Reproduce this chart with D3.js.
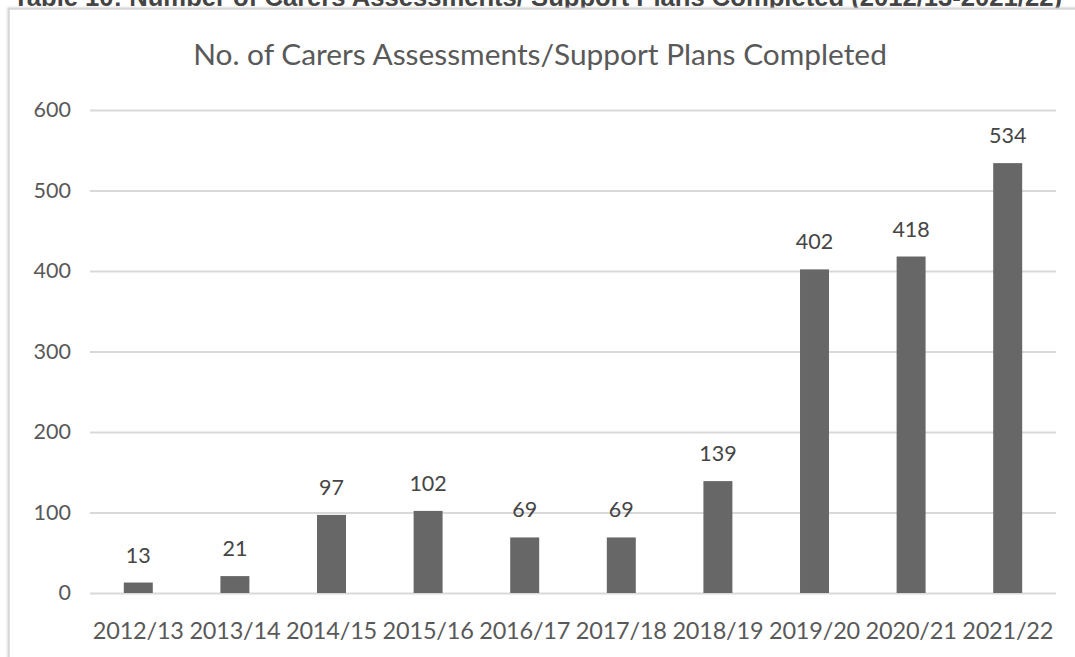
<!DOCTYPE html>
<html>
<head>
<meta charset="utf-8">
<script src="https://cdn.jsdelivr.net/npm/d3@7"></script>
<style>
  html, body { margin: 0; padding: 0; background: #fff; }
  svg { display: block; }
</style>
</head>
<body>
<svg id="chart" width="1075" height="657"></svg>
<script>
// Carers assessments / support plans completed per financial year
const years = ["2012/13", "2013/14", "2014/15", "2015/16", "2016/17",
               "2017/18", "2018/19", "2019/20", "2020/21", "2021/22"];
const completed = [13, 21, 97, 102, 69, 69, 139, 402, 418, 534];
const yTicks = [0, 100, 200, 300, 400, 500, 600];

const heading = "Table 10: Number of Carers Assessments/ Support Plans Completed (2012/13-2021/22)";
const chartTitle = "No. of Carers Assessments/Support Plans Completed";

const svg = d3.select("#chart");
const W = 1075, H = 657;
const plot = { left: 90, right: 1056, top: 110, bottom: 593 };
const font = "Lato, 'Open Sans', sans-serif";

// Fit a text element's font size so that it spans the given width
function fitWidth(sel, width) {
  const node = sel.node();
  const size = parseFloat(sel.attr("font-size"));
  const len = node.getComputedTextLength();
  sel.attr("font-size", (size * width / len).toFixed(2));
}

// Document heading, mostly cropped above the frame
const hd = svg.append("text")
  .attr("x", 13).attr("y", 6)
  .attr("font-family", "'Liberation Sans', Arial, sans-serif")
  .attr("font-weight", "bold")
  .attr("font-size", 20)
  .attr("fill", "#444")
  .text(heading);
fitWidth(hd, 1049);

// Chart frame with a soft shadow
const defs = svg.append("defs");
const sh = defs.append("filter").attr("id", "soft").attr("x", "-5%").attr("y", "-5%")
  .attr("width", "110%").attr("height", "110%");
sh.append("feGaussianBlur").attr("stdDeviation", 1.2);

svg.append("rect")
  .attr("x", 9).attr("y", 9).attr("width", W + 20).attr("height", H + 20)
  .attr("fill", "none").attr("stroke", "#cfcfcf").attr("stroke-width", 3)
  .attr("filter", "url(#soft)");
svg.append("rect")
  .attr("x", 9).attr("y", 9).attr("width", W + 20).attr("height", H + 20)
  .attr("fill", "#fff").attr("stroke", "#d6d6d6").attr("stroke-width", 1.5);

// Scales
const x = d3.scaleBand()
  .domain(years)
  .range([plot.left, plot.right])
  .paddingInner(0.7)
  .paddingOuter(0.35);

const y = d3.scaleLinear()
  .domain([0, 600])
  .range([plot.bottom, plot.top]);

const g = svg.append("g");

// Gridlines
g.append("g")
  .attr("transform", `translate(${plot.left},0)`)
  .call(d3.axisLeft(y).tickValues(yTicks).tickSize(-(plot.right - plot.left)).tickFormat(""))
  .call(a => a.select(".domain").remove())
  .call(a => a.selectAll(".tick line").attr("stroke", "#d9d9d9").attr("stroke-width", 2));

// Y axis labels
g.append("g")
  .attr("transform", `translate(${plot.left},0)`)
  .call(d3.axisLeft(y).tickValues(yTicks).tickSize(0).tickPadding(19))
  .call(a => a.select(".domain").remove())
  .call(a => a.selectAll("text")
    .attr("font-family", font).attr("font-size", 21.5).attr("fill", "#595959"));

// Bars
g.selectAll("rect.bar")
  .data(years.map((yr, i) => ({ yr, v: completed[i] })))
  .join("rect")
  .attr("class", "bar")
  .attr("x", d => x(d.yr))
  .attr("width", x.bandwidth())
  .attr("y", d => y(d.v))
  .attr("height", d => y(0) - y(d.v))
  .attr("fill", "#676767");

// Value labels
g.selectAll("text.val")
  .data(years.map((yr, i) => ({ yr, v: completed[i] })))
  .join("text")
  .attr("class", "val")
  .attr("x", d => x(d.yr) + x.bandwidth() / 2)
  .attr("y", d => y(d.v) - 20)
  .attr("text-anchor", "middle")
  .attr("font-family", font).attr("font-size", 21.5).attr("fill", "#454545")
  .text(d => d.v);

// X axis labels
g.append("g")
  .attr("transform", `translate(0,${plot.bottom})`)
  .call(d3.axisBottom(x).tickSize(0).tickPadding(29))
  .call(a => a.select(".domain").remove())
  .call(a => a.selectAll("text")
    .attr("font-family", font).attr("font-size", 23.5).attr("fill", "#595959")
    .attr("letter-spacing", "-0.2px"));

// Chart title
const t = svg.append("text")
  .attr("x", 540).attr("y", 65)
  .attr("text-anchor", "middle")
  .attr("font-family", font).attr("font-size", 25)
  .attr("fill", "#595959")
  .text(chartTitle);
fitWidth(t, 694);
</script>
</body>
</html>
